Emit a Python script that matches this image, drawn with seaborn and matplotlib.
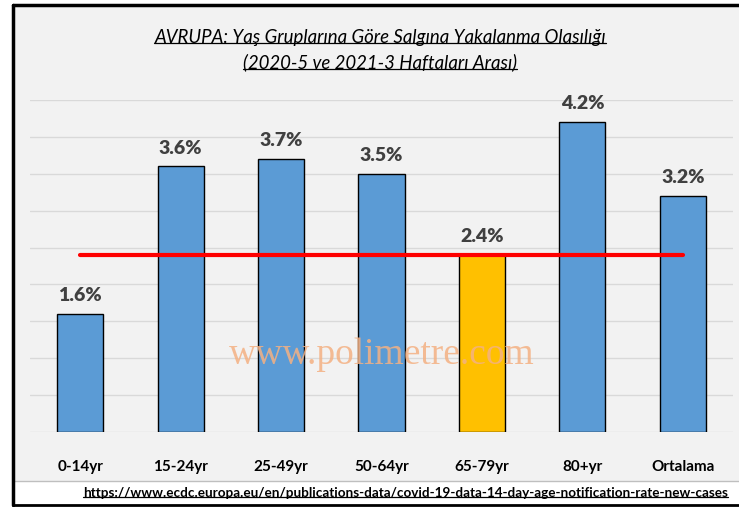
import numpy as np
import pandas as pd
import matplotlib.pyplot as plt
import seaborn as sns
from matplotlib.patches import Rectangle
from matplotlib.lines import Line2D

groups = ['0-14yr', '15-24yr', '25-49yr', '50-64yr', '65-79yr', '80+yr', 'Ortalama']
rates = [1.6, 3.6, 3.7, 3.5, 2.4, 4.2, 3.2]
labels = ['1.6%', '3.6%', '3.7%', '3.5%', '2.4%', '4.2%', '3.2%']
ref_level = 2.4
title1 = 'AVRUPA: Yaş Gruplarına Göre Salgına Yakalanma Olasılığı'
title2 = '(2020-5 ve 2021-3 Haftaları Arası)'
source = 'https://www.ecdc.europa.eu/en/publications-data/covid-19-data-14-day-age-notification-rate-new-cases'

df = pd.DataFrame({'group': groups, 'rate': rates})
colors = ['#5b9bd5'] * 7
colors[4] = '#ffc000'

sns.set_theme(style='white')
plt.rcParams['font.family'] = ['Lato', 'DejaVu Sans']

W, H = 739, 507
fig = plt.figure(figsize=(W / 100, H / 100), dpi=100)
fig.patch.set_facecolor('white')

def fx(px):
    return px / W

def fy(py):
    return 1 - py / H

# gray chart area + frame
fig.add_artist(Rectangle((fx(13), fy(481)), fx(739) - fx(13), fy(6) - fy(481),
                         transform=fig.transFigure, facecolor='#f2f2f2', edgecolor='none', zorder=0))
fig.add_artist(Line2D([fx(13), fx(739)], [fy(481), fy(481)], transform=fig.transFigure, color='#bfbfbf', lw=1))
fig.add_artist(Line2D([fx(13), fx(13)], [fy(5), fy(505)], transform=fig.transFigure, color='black', lw=2.5))
fig.add_artist(Line2D([fx(13), fx(739)], [fy(5), fy(5)], transform=fig.transFigure, color='black', lw=2.5))
fig.add_artist(Line2D([fx(13), fx(739)], [fy(505), fy(505)], transform=fig.transFigure, color='black', lw=2))

ax = fig.add_axes([fx(30), fy(432), fx(733) - fx(30), fy(100) - fy(432)])
ax.set_facecolor('none')
sns.barplot(data=df, x='group', y='rate', hue='group', palette=colors, legend=False,
            width=0.46, edgecolor='black', linewidth=1, saturation=1, ax=ax, zorder=3)
ax.set_ylim(0, 4.5)
ax.set_xlim(-0.5, 6.5)
ax.set_yticks(np.arange(0, 4.51, 0.5))
ax.yaxis.grid(True, color='#d9d9d9', lw=1)
ax.set_axisbelow(True)
ax.tick_params(axis='y', left=False, labelleft=False)
ax.tick_params(axis='x', bottom=False, pad=14)
for lab in ax.get_xticklabels():
    lab.set_fontsize(11)
    lab.set_fontweight('bold')
    lab.set_color('#000000')
ax.set_xlabel('')
ax.set_ylabel('')
for s in ax.spines.values():
    s.set_visible(False)

for i, (v, t) in enumerate(zip(rates, labels)):
    ax.annotate(t, (i, v), xytext=(0, 7), textcoords='offset points', ha='center', va='bottom',
                fontsize=14, fontweight='heavy', color='#404040', zorder=5)

ax.plot([0, 6], [ref_level, ref_level], color='#ff0000', lw=3, zorder=4)

# watermark
ax.text(3, 1.05, 'www.polimetre.com', ha='center', va='center', fontsize=27,
        family='Liberation Serif', color='#f4b183', alpha=0.85, zorder=6)

# titles (underlined)
fig.canvas.draw()
renderer = fig.canvas.get_renderer()
for txt, py in [(title1, 37), (title2, 62)]:
    t = fig.text(fx(380), fy(py), txt, ha='center', va='center', fontsize=13.4, style='italic', color='black')
    bb = t.get_window_extent(renderer).transformed(fig.transFigure.inverted())
    fig.add_artist(Line2D([bb.x0, bb.x1], [bb.y0 + 0.004, bb.y0 + 0.004], transform=fig.transFigure,
                          color='black', lw=0.9))

s = fig.text(fx(728), fy(493), source, ha='right', va='center', fontsize=9.7, fontweight='bold', color='#000000')
bb = s.get_window_extent(renderer).transformed(fig.transFigure.inverted())
fig.add_artist(Line2D([bb.x0, bb.x1], [bb.y0 + 0.003, bb.y0 + 0.003], transform=fig.transFigure,
                      color='black', lw=0.9))

fig.savefig('out.png', dpi=100)
